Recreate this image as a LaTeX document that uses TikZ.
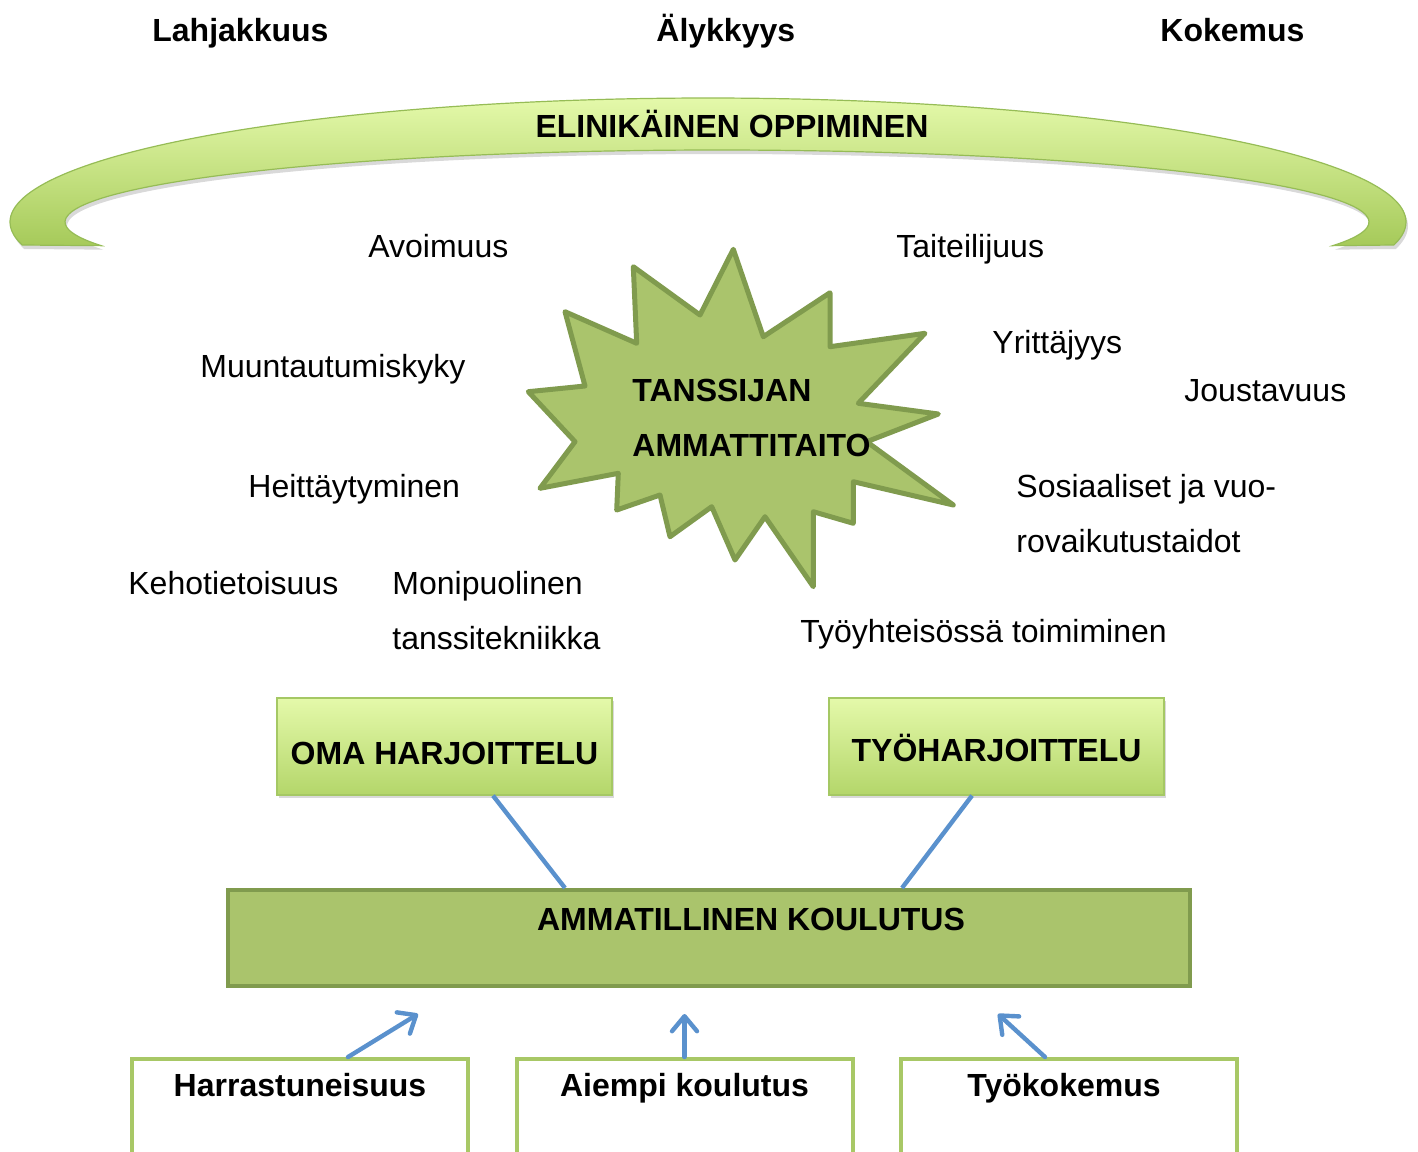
\documentclass[tikz,border=0pt]{standalone}
\usepackage{fontspec}
\setmainfont{Liberation Sans}
\usetikzlibrary{arrows.meta,shadows}

\definecolor{arcTop}{RGB}{228,249,170}
\definecolor{arcBot}{RGB}{166,202,90}
\definecolor{arcLine}{RGB}{150,188,86}
\definecolor{starFill}{RGB}{170,196,108}
\definecolor{starLine}{RGB}{128,155,78}
\definecolor{boxTop}{RGB}{228,249,170}
\definecolor{boxBot}{RGB}{180,214,106}
\definecolor{boxLine}{RGB}{165,200,100}
\definecolor{linkBlue}{RGB}{90,145,205}
\definecolor{srcLine}{RGB}{168,200,102}

\begin{document}
\begin{tikzpicture}[x=0.5pt,y=-0.5pt,
  txt/.style={font=\fontsize{16}{19}\selectfont, inner sep=0pt, anchor=base west},
  btxt/.style={font=\fontsize{16}{19}\selectfont\bfseries, inner sep=0pt, anchor=base west},
  greenbox/.style={draw=boxLine, line width=0.6pt, top color=boxTop, bottom color=boxBot,
    minimum width=167.5pt, inner sep=0pt,
    font=\fontsize{16}{19}\selectfont\bfseries,
    drop shadow={opacity=0.3, shadow xshift=1pt, shadow yshift=-1.5pt}},
  srcbox/.style={draw=srcLine, line width=2pt, minimum width=168pt, anchor=north,
    inner sep=0pt, text height=18.5pt, text depth=41.5pt,
    font=\fontsize{16}{19}\selectfont\bfseries},
  link/.style={draw=linkBlue, line width=2.2pt},
  arr/.style={link, line cap=round, -{Straight Barb[round, length=7.5pt, width=12.5pt]}}
]
\useasboundingbox (0,0) rectangle (1418,1151);
\clip (0,0) rectangle (1418,1151);

% top words
\node[btxt] (lahj) at (152,41) {Lahjakkuus};
\node[btxt] (aly) at (656,41) {Älykkyys};
\node[btxt] (koke) at (1160,41) {Kokemus};

% curved band
\path[top color=arcTop, bottom color=arcBot, draw=arcLine, line width=0.6pt,
      drop shadow={opacity=0.3, shadow xshift=1pt, shadow yshift=-2pt}]
  plot[domain=190.69:-10.69, samples=90, smooth] ({708+698*cos(\x)},{222-124*sin(\x)})
  -- plot[domain=-19.18:199.18, samples=90, smooth] ({717+652*cos(\x)},{222-72*sin(\x)})
  -- cycle;
\node[btxt, anchor=base] (elin) at (732,137) {ELINIKÄINEN OPPIMINEN};

% star
\draw[fill=starFill, draw=starLine, line width=2.5pt, line join=round]
 (733.3,249.3) -- (763.3,336.7) -- (830,292.7) -- (830,346.7) -- (925,333.3)
 -- (858.3,403.3) -- (938.3,414) -- (866.7,441.7) -- (953.3,505) -- (853.3,481.7)
 -- (853.3,523.3) -- (813.3,511.7) -- (813.3,586.7) -- (765,516.7) -- (735,560)
 -- (711.7,506.7) -- (670,536.7) -- (660,495) -- (616.7,510) -- (618.3,473.3)
 -- (540,488.3) -- (575,441.7) -- (528.3,391.7) -- (585,386) -- (565,311.7)
 -- (636.7,343.3) -- (633.3,266.7) -- (700,315) -- cycle;
\node[btxt] (tans) at (632,401) {TANSSIJAN};
\node[btxt] (ammt) at (632,456) {AMMATTITAITO};

% qualities
\node[txt] (avoi) at (368,257) {Avoimuus};
\node[txt] (taite) at (896,257) {Taiteilijuus};
\node[txt] (yritt) at (992,353) {Yrittäjyys};
\node[txt] (muun) at (200,377) {Muuntautumiskyky};
\node[txt] (jous) at (1184,401) {Joustavuus};
\node[txt] (heit) at (248,497) {Heittäytyminen};
\node[txt] (sos1) at (1016,497) {Sosiaaliset ja vuo-};
\node[txt] (sos2) at (1016,552) {rovaikutustaidot};
\node[txt] (keho) at (128,594) {Kehotietoisuus};
\node[txt] (moni1) at (392,594) {Monipuolinen};
\node[txt] (moni2) at (392,649) {tanssitekniikka};
\node[txt] (tyoy) at (800,642) {Työyhteisössä toimiminen};

% practice boxes
\node[greenbox, text height=33pt, text depth=15.5pt] (oma) at (444.5,746.5) {OMA HARJOITTELU};
\node[greenbox, text height=31.5pt, text depth=17pt] (tyo) at (996.5,746.5) {TYÖHARJOITTELU};

% vocational education
\node[draw=starLine, fill=starFill, line width=2pt, minimum width=481pt,
      minimum height=48pt, inner sep=0pt] (amk) at (709,938) {};
\node[btxt, anchor=base] (amkt) at (751,930) {AMMATILLINEN KOULUTUS};

\draw[link] ([xshift=24.25pt]oma.south) -- ([xshift=-72pt]amk.north);
\draw[link] ([xshift=-12.25pt]tyo.south) -- ([xshift=96.5pt]amk.north);

% source boxes
\node[srcbox] (harr) at (300,1057) {Harrastuneisuus};
\node[srcbox] (aiem) at (684.5,1057) {Aiempi koulutus};
\node[srcbox] (tyok) at (1069,1057) {\hspace*{-5pt}Työkokemus};

\draw[arr] ([xshift=24pt]harr.north) -- ([xshift=-145.5pt,yshift=-13pt]amk.south);
\draw[arr] (aiem.north) -- ([xshift=-12.25pt,yshift=-13pt]amk.south);
\draw[arr] ([xshift=-12pt]tyok.north) -- ([xshift=144.5pt,yshift=-13pt]amk.south);
\end{tikzpicture}
\end{document}
